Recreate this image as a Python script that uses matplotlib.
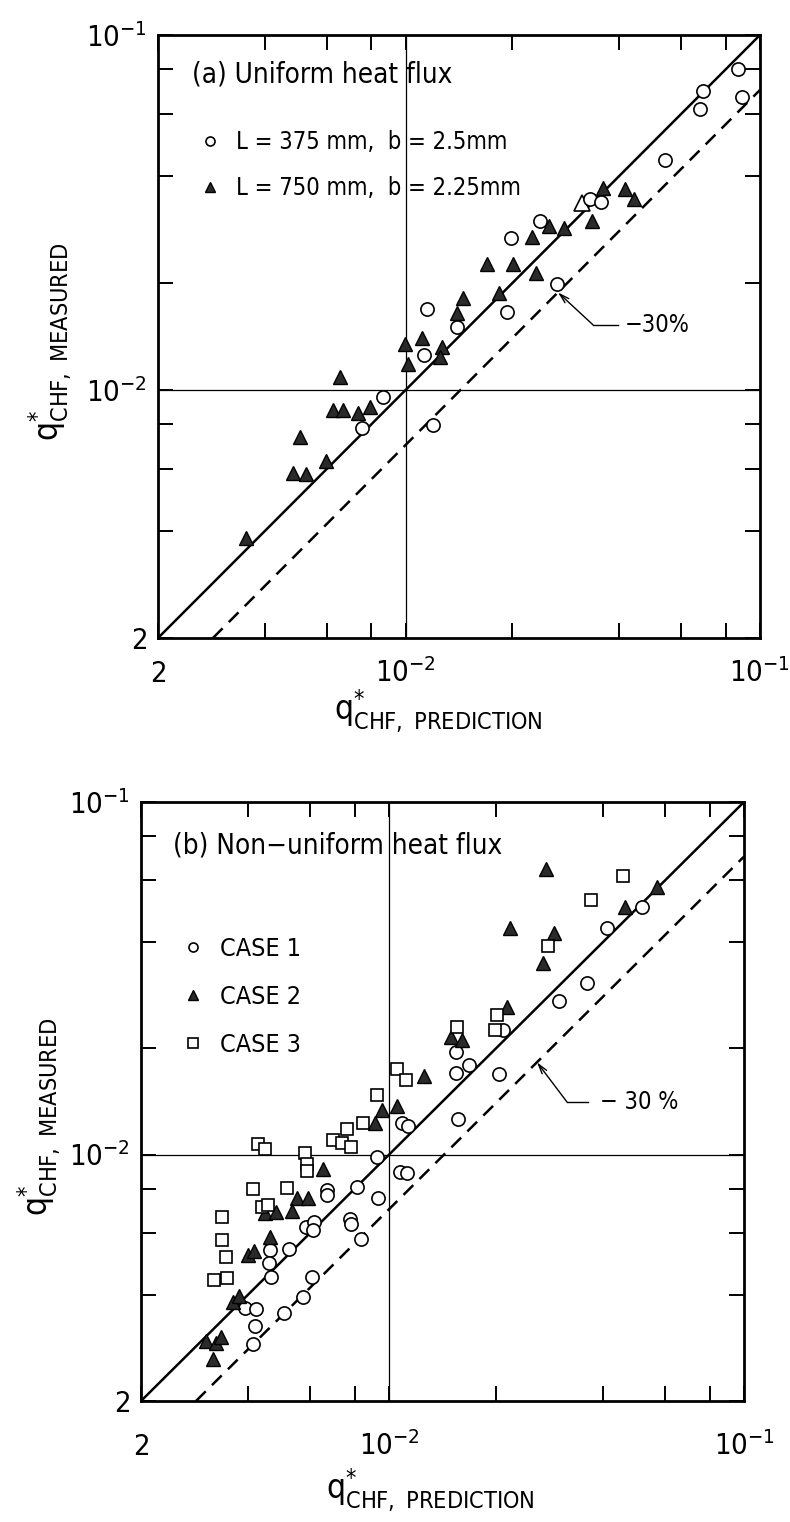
import matplotlib
matplotlib.use('Agg')
import matplotlib.pyplot as plt
from matplotlib.lines import Line2D

plt.rcParams['font.family'] = ['DejaVu Sans']
plt.rcParams['font.stretch'] = 'condensed'
plt.rcParams['mathtext.default'] = 'regular'

# (a) uniform heat flux: q*_CHF predicted vs measured
a_l375_pred = [0.0867, 0.0691, 0.0677, 0.0890, 0.0539, 0.0331, 0.0356, 0.0239, 0.0198,
               0.0267, 0.0193, 0.0115, 0.0140, 0.01126, 0.00863, 0.00753, 0.01194]
a_l375_meas = [0.0802, 0.0696, 0.0619, 0.0669, 0.0444, 0.0345, 0.0338, 0.0299, 0.0268,
               0.0199, 0.0166, 0.0169, 0.0150, 0.01254, 0.00955, 0.00781, 0.00796]
a_l750_pred = [0.0360, 0.0416, 0.0441, 0.0336, 0.0254, 0.0280, 0.0227, 0.0170, 0.0201,
               0.0233, 0.0183, 0.0145, 0.0140, 0.01267, 0.01112, 0.00996, 0.0125, 0.01015,
               0.00653, 0.00624, 0.00666, 0.00734, 0.00793, 0.00503, 0.00596, 0.00481,
               0.00523, 0.00354]
a_l750_meas = [0.0371, 0.0368, 0.0345, 0.0299, 0.0290, 0.0286, 0.0270, 0.0226, 0.0226,
               0.0214, 0.0188, 0.0182, 0.0165, 0.0132, 0.0140, 0.01347, 0.01238, 0.01183,
               0.01088, 0.00878, 0.00878, 0.00861, 0.00895, 0.00737, 0.00631, 0.00583,
               0.00580, 0.00383]
a_open_tri_pred = [0.0315]
a_open_tri_meas = [0.0336]

# (b) non-uniform heat flux
b_case1_pred = [0.0516, 0.0411, 0.0361, 0.0301, 0.0209, 0.0204, 0.0154, 0.0168, 0.0154,
                0.0156, 0.01088, 0.01131, 0.00925, 0.01074, 0.01123, 0.00812, 0.00669,
                0.00669, 0.00931, 0.00583, 0.00614, 0.00610, 0.00776, 0.00781, 0.00834,
                0.00462, 0.00522, 0.00459, 0.00465, 0.00607, 0.00393, 0.00422, 0.00572,
                0.00506, 0.00419, 0.00414]
b_case1_meas = [0.0504, 0.0439, 0.0307, 0.0273, 0.0226, 0.0169, 0.0195, 0.0179, 0.0170,
                0.0126, 0.01229, 0.01205, 0.00984, 0.00892, 0.00887, 0.00809, 0.00793,
                0.00768, 0.00753, 0.00623, 0.00644, 0.00611, 0.00657, 0.00635, 0.00576,
                0.00536, 0.00540, 0.00493, 0.00449, 0.00449, 0.00367, 0.00365, 0.00394,
                0.00355, 0.00326, 0.00290]
b_case2_pred = [0.0277, 0.0569, 0.0462, 0.0219, 0.0292, 0.0272, 0.0215, 0.0149, 0.0160,
                0.01254, 0.01053, 0.00955, 0.00913, 0.00651, 0.00550, 0.00591, 0.00447,
                0.00480, 0.00533, 0.00462, 0.00400, 0.00416, 0.00363, 0.00378, 0.00305,
                0.00325, 0.00336, 0.00319]
b_case2_meas = [0.0646, 0.0574, 0.0504, 0.0439, 0.0425, 0.0349, 0.0262, 0.0216, 0.0211,
                0.0167, 0.01373, 0.01338, 0.01229, 0.00910, 0.00753, 0.00753, 0.00683,
                0.00687, 0.00692, 0.00584, 0.00519, 0.00533, 0.00382, 0.00397, 0.00296,
                0.00292, 0.00304, 0.00263]
b_case3_pred = [0.0456, 0.0371, 0.0280, 0.0201, 0.0199, 0.0155, 0.01053, 0.01116, 0.00925,
                0.00844, 0.00761, 0.00695, 0.00737, 0.00781, 0.00427, 0.00447, 0.00580,
                0.00587, 0.00587, 0.00414, 0.00516, 0.00438, 0.00456, 0.00338, 0.00338,
                0.00347, 0.00321, 0.00349]
b_case3_meas = [0.0617, 0.0527, 0.0391, 0.0249, 0.0226, 0.0230, 0.0175, 0.0163, 0.01475,
                0.01229, 0.01182, 0.01100, 0.01078, 0.01050, 0.01072, 0.01037, 0.01010,
                0.00940, 0.00898, 0.00799, 0.00804, 0.00710, 0.00719, 0.00665, 0.00572,
                0.00512, 0.00441, 0.00447]

lims = (2e-3, 1e-1)
major_ticks = [2e-3, 1e-2, 1e-1]
minor_ticks = [4e-3, 6e-3, 8e-3, 2e-2, 4e-2, 6e-2, 8e-2]
x_ticklabels = [r'$2$', r'$10^{-2}$', r'$10^{-1}$']
y_ticklabels = [r'$2$', r'$10^{-2}$', r'$10^{-1}$']
band = 0.7  # -30 % line

fig = plt.figure(figsize=(7.9, 15.22), dpi=100)
ax_a = fig.add_axes([0.2, 0.5808, 0.762, 0.3962])
ax_b = fig.add_axes([0.1785, 0.0795, 0.7633, 0.3936])


def setup_axes(ax, xpad, xlabel_pos, ylabel_pos):
    ax.set_xscale('log')
    ax.set_yscale('log')
    ax.set_xlim(*lims)
    ax.set_ylim(*lims)
    ax.set_xticks(major_ticks, labels=x_ticklabels)
    ax.set_yticks(major_ticks, labels=y_ticklabels)
    ax.set_xticks(minor_ticks, minor=True, labels=[''] * len(minor_ticks))
    ax.set_yticks(minor_ticks, minor=True, labels=[''] * len(minor_ticks))
    ax.tick_params(which='both', direction='in', top=True, right=True,
                   length=11, width=1.4, labelsize=21)
    ax.tick_params(axis='y', which='major', pad=8)
    ax.tick_params(axis='x', which='major', pad=xpad)
    for t in ax.xaxis.get_major_ticks():
        t.label1.set_va('baseline')
    for s in ax.spines.values():
        s.set_linewidth(2.0)
    ax.axvline(1e-2, color='black', lw=0.9)
    ax.axhline(1e-2, color='black', lw=0.9)
    ax.plot(lims, lims, color='black', lw=1.8)
    ax.plot([lims[0] / band, lims[1]], [lims[0], lims[1] * band],
            color='black', lw=1.8, linestyle=(0, (5.5, 3.5)))
    ax.set_xlabel(r'$q^{*}_{\mathrm{CHF,\ PREDICTION}}$', fontsize=24)
    ax.set_ylabel(r'$q^{*}_{\mathrm{CHF,\ MEASURED}}$', fontsize=24)
    ax.xaxis.set_label_coords(*xlabel_pos)
    ax.yaxis.set_label_coords(*ylabel_pos)


def minus30(ax, tip_x, elbow, end_x, text_x, label):
    ax.plot([elbow[0], end_x], [elbow[1], elbow[1]], color='black', lw=1.0)
    ax.annotate('', xy=(tip_x, tip_x * band), xytext=elbow,
                arrowprops=dict(arrowstyle='->,head_length=0.7,head_width=0.2',
                                color='black', lw=1.0, shrinkA=0, shrinkB=0))
    ax.text(text_x, elbow[1], label, fontsize=17, va='center', ha='left')


circle_kw = dict(marker='o', ms=9.5, mfc='white', mec='black', mew=1.2, ls='none')
tri_kw = dict(marker='^', ms=9.5, mfc='#2a2a2a', mec='black', mew=1.0, ls='none')
sq_kw = dict(marker='s', ms=9, mfc='white', mec='black', mew=1.2, ls='none')

# panel (a)
setup_axes(ax_a, 32, (0.465, -0.082), (-0.14, 0.491))
ax_a.plot(a_l375_pred, a_l375_meas, zorder=3, **circle_kw)
ax_a.plot(a_l750_pred, a_l750_meas, zorder=3, **tri_kw)
ax_a.plot(a_open_tri_pred, a_open_tri_meas, marker='^', ms=11, mfc='white',
          mec='black', mew=1.2, ls='none', zorder=2)
ax_a.text(0.056, 0.934, '(a) Uniform heat flux', fontsize=20, va='center',
          transform=ax_a.transAxes)
ax_a.legend(handles=[Line2D([], [], **dict(circle_kw, ms=6.5)),
                     Line2D([], [], **dict(tri_kw, ms=6.5))],
            labels=['L = 375 mm,  b = 2.5mm', 'L = 750 mm,  b = 2.25mm'],
            loc='center left', bbox_to_anchor=(0.071, 0.784), frameon=False,
            fontsize=17, handlelength=0.8, handletextpad=0.68, labelspacing=0.95,
            borderpad=0, borderaxespad=0)
minus30(ax_a, 0.0269, (0.0338, 0.01525), 0.0397, 0.0416, '\u221230%')

# panel (b)
setup_axes(ax_b, 39, (0.48, -0.11), (-0.129, 0.474))
ax_b.plot(b_case1_pred, b_case1_meas, zorder=3, **circle_kw)
ax_b.plot(b_case2_pred, b_case2_meas, zorder=3, **tri_kw)
ax_b.plot(b_case3_pred, b_case3_meas, zorder=3, **sq_kw)
ax_b.text(0.053, 0.928, '(b) Non\u2212uniform heat flux', fontsize=20, va='center',
          transform=ax_b.transAxes)
ax_b.legend(handles=[Line2D([], [], **dict(circle_kw, ms=6.5)),
                     Line2D([], [], **dict(tri_kw, ms=6.5)),
                     Line2D([], [], **dict(sq_kw, ms=6.5))],
            labels=['CASE 1', 'CASE 2', 'CASE 3'],
            loc='center left', bbox_to_anchor=(0.0697, 0.675), frameon=False,
            fontsize=18, handlelength=0.8, handletextpad=0.68, labelspacing=0.96,
            borderpad=0, borderaxespad=0)
minus30(ax_b, 0.0261, (0.0317, 0.0141), 0.0363, 0.0393, '\u2212 30 %')

fig.savefig('out.png', dpi=100)
